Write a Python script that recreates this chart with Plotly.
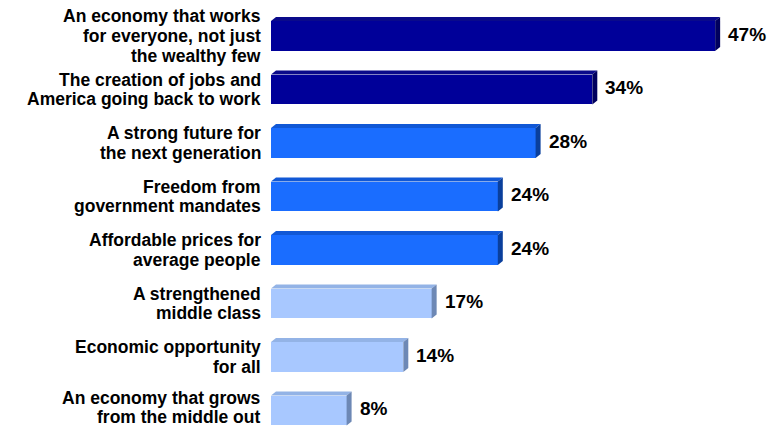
import plotly.graph_objects as go

# Survey responses, top to bottom
labels = [
    "An economy that works<br>for everyone, not just<br>the wealthy few",
    "The creation of jobs and<br>America going back to work",
    "A strong future for<br>the next generation",
    "Freedom from<br>government mandates",
    "Affordable prices for<br>average people",
    "A strengthened<br>middle class",
    "Economic opportunity<br>for all",
    "An economy that grows<br>from the middle out",
]
values = [47, 34, 28, 24, 24, 17, 14, 8]
tiers = ["dark", "dark", "mid", "mid", "mid", "light", "light", "light"]

# front / top / side face colours for each tier
palette = {
    "dark": ("#000099", "#0a0a8a", "#00005e"),
    "mid": ("#1a6dff", "#1158d6", "#0a3f9c"),
    "light": ("#a8c8ff", "#93b3e6", "#6d88b5"),
}

FONT = "Liberation Sans, Arial, sans-serif"
W, H = 768, 428
ML = 271
PX_PER_UNIT_X = 9.45          # horizontal pixels per percentage point
PX_PER_ROW = 53.5             # vertical pixels per category row
X_MAX = (W - ML) / PX_PER_UNIT_X
BAR_W = 0.56                  # bar thickness in row units
DEPTH_X = 5 / PX_PER_UNIT_X   # extrusion depth, converted to axis units
DEPTH_Y = 4 / PX_PER_ROW
LABEL_SIZE = 17.5
LINE_STEP = 19.6              # line spacing for category labels
TEXT_BOX = 1.12 * LABEL_SIZE  # rendered height of one label line

y_top = -36 / PX_PER_ROW
y_bot = y_top + H / PX_PER_ROW

idx = list(range(len(values)))
front = [palette[t][0] for t in tiers]

fig = go.Figure(
    go.Bar(
        x=values,
        y=idx,
        orientation="h",
        width=BAR_W,
        marker=dict(color=front, line=dict(width=0)),
        hoverinfo="skip",
    )
)

shapes = []
annotations = []
for i, v, t, lab in zip(idx, values, tiers, labels):
    _, top_c, side_c = palette[t]
    yt = i - BAR_W / 2       # upper edge (axis is reversed)
    yb = i + BAR_W / 2
    # top face
    shapes.append(dict(
        type="path", xref="x", yref="y", layer="above",
        path=f"M 0 {yt} L {v} {yt} L {v + DEPTH_X} {yt - DEPTH_Y} L {DEPTH_X} {yt - DEPTH_Y} Z",
        fillcolor=top_c, line=dict(width=0),
    ))
    # right side face
    shapes.append(dict(
        type="path", xref="x", yref="y", layer="above",
        path=f"M {v} {yt} L {v + DEPTH_X} {yt - DEPTH_Y} L {v + DEPTH_X} {yb - DEPTH_Y} L {v} {yb} Z",
        fillcolor=side_c, line=dict(width=0),
    ))
    # value label
    annotations.append(dict(
        x=v, y=i, xref="x", yref="y", text=f"{v}%",
        showarrow=False, xanchor="left", yanchor="middle",
        xshift=11, yshift=2,
        font=dict(family=FONT, size=19, color="#000000", weight="bold"),
    ))
    # category label, one line at a time, right-aligned left of the bars
    lines = lab.split("<br>")
    n = len(lines)
    row_px = (i - y_top) * PX_PER_ROW
    block_bottom = row_px + (n - 1) / 2 * LINE_STEP + TEXT_BOX / 2
    lift = max(0.0, block_bottom - (H - 1))   # keep the last row inside the page
    for k, line in enumerate(lines):
        annotations.append(dict(
            x=0, y=i, xref="paper", yref="y", text=line,
            showarrow=False, xanchor="right", yanchor="middle",
            xshift=-8, yshift=((n - 1) / 2 - k) * LINE_STEP + lift,
            font=dict(family=FONT, size=LABEL_SIZE, color="#000000", weight="bold"),
        ))

fig.update_layout(
    width=W, height=H,
    margin=dict(l=ML, r=0, t=0, b=0),
    paper_bgcolor="white", plot_bgcolor="white",
    showlegend=False,
    shapes=shapes,
    annotations=annotations,
    xaxis=dict(range=[0, X_MAX], visible=False, fixedrange=True),
    yaxis=dict(
        range=[y_bot, y_top],
        tickmode="array", tickvals=idx,
        showticklabels=False,
        showgrid=False, zeroline=False, showline=False,
        ticks="", fixedrange=True,
    ),
    bargap=0,
)

fig.write_html("out.html")
